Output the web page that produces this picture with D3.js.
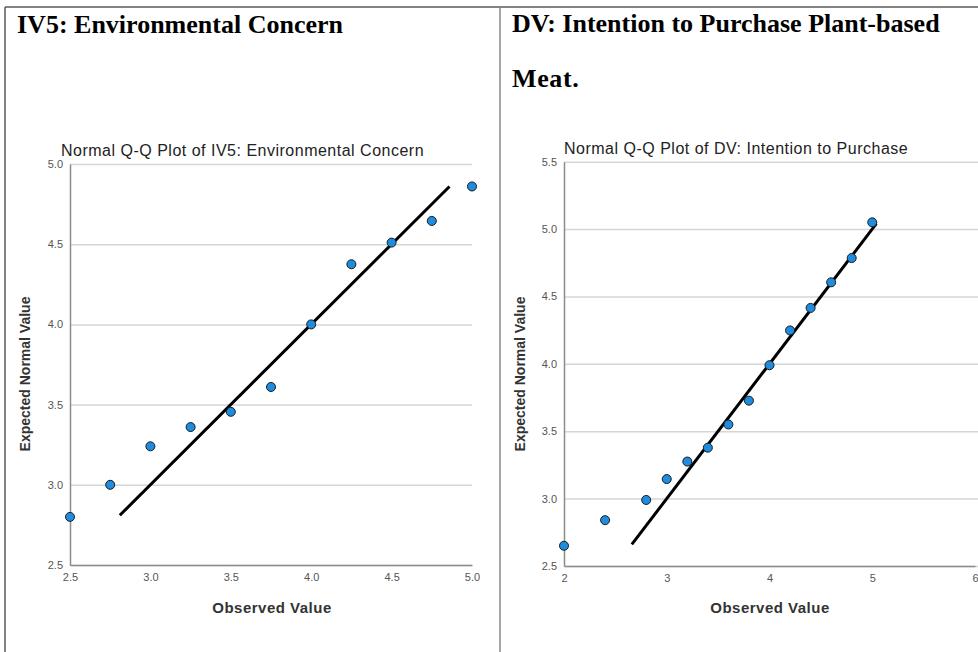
<!DOCTYPE html>
<html>
<head>
<meta charset="utf-8">
<script src="https://cdn.jsdelivr.net/npm/d3@7"></script>
<style>
body{margin:0;background:#fff;}
svg{display:block;}
</style>
</head>
<body>
<div id="qq"></div>
<script>
// IV5 panel
var iv5Observed = [2.5, 2.75, 3.0, 3.25, 3.5, 3.75, 4.0, 4.25, 4.5, 4.75, 5.0];
var iv5Expected = [2.80, 3.00, 3.24, 3.36, 3.455, 3.61, 4.00, 4.375, 4.51, 4.645, 4.86];
var iv5Line = [2.81, 4.86];
var iv5XTicks = [2.5, 3.0, 3.5, 4.0, 4.5, 5.0];
var iv5YTicks = [2.5, 3.0, 3.5, 4.0, 4.5, 5.0];

// DV panel
var dvObserved = [2.0, 2.4, 2.8, 3.0, 3.2, 3.4, 3.6, 3.8, 4.0, 4.2, 4.4, 4.6, 4.8, 5.0];
var dvExpected = [2.65, 2.84, 2.99, 3.145, 3.275, 3.378, 3.55, 3.727, 3.99, 4.248, 4.415, 4.605, 4.785, 5.05];
var dvLine = [2.66, 5.04];
var dvXTicks = [2, 3, 4, 5, 6];
var dvYTicks = [2.5, 3.0, 3.5, 4.0, 4.5, 5.0, 5.5];

var W = 978, H = 652;

var svg = d3.select("#qq")
    .append("svg")
    .attr("width", W)
    .attr("height", H);

svg.append("rect").attr("width", W).attr("height", H).style("fill", "#fff");

// table borders
svg.append("line").attr("x1", 5).attr("x2", W).attr("y1", 7).attr("y2", 7)
    .style("stroke", "#5a5a5a").style("stroke-width", "1.5px");
svg.append("line").attr("x1", 5).attr("x2", 5).attr("y1", 7).attr("y2", H)
    .style("stroke", "#5a5a5a").style("stroke-width", "1.5px");
svg.append("line").attr("x1", 500).attr("x2", 500).attr("y1", 7).attr("y2", H)
    .style("stroke", "#8a8a8a").style("stroke-width", "1.5px");

// cell headings
var serif = "'Liberation Serif','Times New Roman',serif";
svg.append("text").attr("x", 17).attr("y", 33)
    .style("font-family", serif).style("font-weight", "bold").style("font-size", "26px")
    .text("IV5: Environmental Concern");
svg.append("text").attr("x", 512).attr("y", 32)
    .style("font-family", serif).style("font-weight", "bold").style("font-size", "26px")
    .text("DV: Intention to Purchase Plant-based");
svg.append("text").attr("x", 512).attr("y", 87)
    .style("font-family", serif).style("font-weight", "bold").style("font-size", "26px")
    .style("letter-spacing", "0.6px")
    .text("Meat.");

var sans = "'Liberation Sans',Arial,sans-serif";

function qqPanel(opt){
    var g = svg.append("g");

    var x = d3.scaleLinear()
        .domain(opt.xDomain)
        .range(opt.xRange);

    var y = d3.scaleLinear()
        .domain(opt.yDomain)
        .range(opt.yRange);

    // gridlines
    g.append("g")
        .attr("transform", "translate(" + opt.xRange[0] + ",0)")
        .call(d3.axisLeft(y).tickValues(opt.yTicks).tickSize(-(opt.gridEnd - opt.xRange[0])).tickFormat(""))
        .call(function(s){
            s.select(".domain").remove();
            s.selectAll("line").style("stroke", "#d6d6d6").style("stroke-width", "1.5px");
        });

    // y axis
    g.append("g")
        .attr("transform", "translate(" + opt.xRange[0] + ",0)")
        .call(d3.axisLeft(y).tickValues(opt.yTicks).tickSize(0).tickPadding(7).tickFormat(d3.format(".1f")))
        .call(function(s){
            s.select(".domain").style("stroke", "#8c8c8c").style("stroke-width", "1.5px");
            s.selectAll("text").style("font-family", sans).style("font-size", "11px").style("fill", "#555");
        });

    // x axis
    g.append("g")
        .attr("transform", "translate(0," + opt.yRange[0] + ")")
        .call(d3.axisBottom(x).tickValues(opt.xTicks).tickSize(0).tickPadding(8).tickFormat(d3.format(opt.xFmt)))
        .call(function(s){
            s.select(".domain").style("stroke", "#8c8c8c").style("stroke-width", "1.5px");
            s.selectAll("text").style("font-family", sans).style("font-size", "11px").style("fill", "#555");
        });

    // reference line
    g.append("line")
        .attr("x1", x(opt.line[0])).attr("y1", y(opt.line[0]))
        .attr("x2", x(opt.line[1])).attr("y2", y(opt.line[1]))
        .style("stroke", "#000")
        .style("stroke-width", "3px");

    var pts = opt.obs.map(function(v, i){ return {o: v, e: opt.exp[i]}; });

    g.selectAll("circle")
        .data(pts)
        .enter()
        .append("circle")
        .attr("cx", function(d){ return x(d.o); })
        .attr("cy", function(d){ return y(d.e); })
        .attr("r", 4.5)
        .style("fill", "#1e8ddf")
        .style("stroke", "#1a1a1a")
        .style("stroke-width", "1px");

    // chart title
    g.append("text")
        .attr("x", opt.titleX).attr("y", opt.titleY)
        .style("font-family", sans).style("font-size", "16px").style("letter-spacing", "0.5px")
        .style("fill", "#222")
        .text(opt.title);

    // axis titles
    g.append("text")
        .attr("x", opt.xLabelX).attr("y", 613)
        .attr("text-anchor", "middle")
        .style("font-family", sans).style("font-weight", "bold").style("font-size", "15px")
        .style("letter-spacing", "0.5px").style("fill", "#333")
        .text("Observed Value");

    g.append("text")
        .attr("transform", "translate(" + opt.yLabelX + ",374) rotate(-90)")
        .attr("text-anchor", "middle")
        .style("font-family", sans).style("font-weight", "bold").style("font-size", "14px")
        .style("fill", "#333")
        .text("Expected Normal Value");
}

qqPanel({
    obs: iv5Observed, exp: iv5Expected, line: iv5Line,
    xDomain: [2.5, 5.0], yDomain: [2.5, 5.0],
    xRange: [70, 472], yRange: [565, 164], gridEnd: 472,
    xTicks: iv5XTicks, yTicks: iv5YTicks, xFmt: ".1f",
    title: "Normal Q-Q Plot of IV5: Environmental Concern", titleX: 61, titleY: 156,
    xLabelX: 272, yLabelX: 30
});

qqPanel({
    obs: dvObserved, exp: dvExpected, line: dvLine,
    xDomain: [2, 6], yDomain: [2.5, 5.5],
    xRange: [564, 975], yRange: [566, 161.7], gridEnd: 978,
    xTicks: dvXTicks, yTicks: dvYTicks, xFmt: "d",
    title: "Normal Q-Q Plot of DV: Intention to Purchase", titleX: 564, titleY: 154,
    xLabelX: 770, yLabelX: 525
});
</script>
</body>
</html>
